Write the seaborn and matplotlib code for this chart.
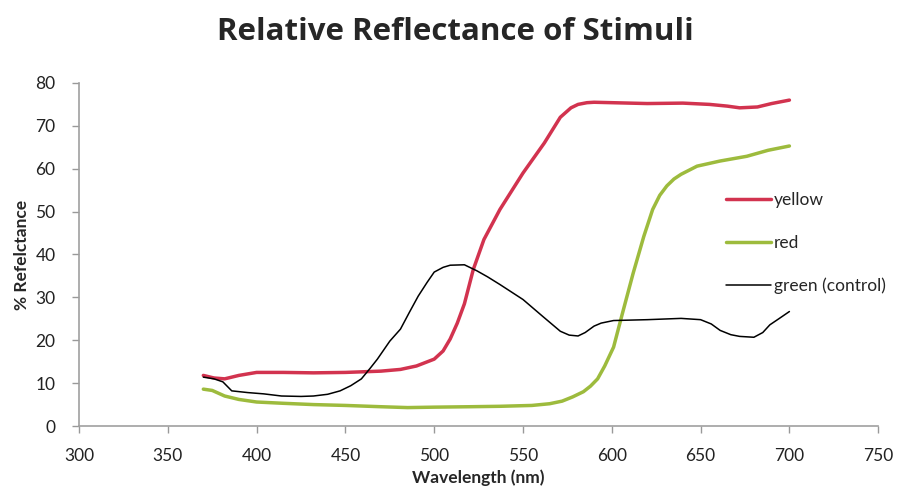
import matplotlib
matplotlib.use("Agg")
import matplotlib.pyplot as plt
import seaborn as sns
import pandas as pd

# ---- data ----
yellow_x = [370, 376, 382, 390, 400, 415, 432, 450, 470, 481, 490, 500, 505, 509, 513, 517,
            522, 528, 537, 550, 562, 571, 577, 581, 586, 590, 600, 620, 640, 655, 665, 672, 682, 690, 700]
yellow_y = [11.8, 11.2, 11.0, 11.8, 12.5, 12.5, 12.4, 12.5, 12.8, 13.2, 14.0, 15.6, 17.5, 20.3, 24.0, 28.5,
            36.5, 43.5, 50.5, 59.0, 66.0, 72.0, 74.2, 75.0, 75.4, 75.5, 75.4, 75.2, 75.3, 75.0, 74.6, 74.2, 74.4, 75.2, 76.0]

red_x = [370, 375, 382, 390, 400, 415, 432, 450, 470, 485, 500, 520, 537, 555, 565, 572, 578, 584,
         588, 592, 596, 601, 606, 612, 618, 623, 627, 631, 635, 639, 648, 661, 676, 688, 700]
red_y = [8.6, 8.3, 7.0, 6.2, 5.6, 5.3, 5.0, 4.8, 4.5, 4.3, 4.4, 4.5, 4.6, 4.8, 5.2, 5.8, 6.8, 8.0,
         9.3, 11.0, 14.0, 18.4, 26.3, 35.6, 44.2, 50.5, 53.8, 56.0, 57.6, 58.7, 60.6, 61.8, 62.9, 64.3, 65.3]

green_x = [370, 376, 381, 386, 395, 404, 414, 425, 432, 440, 447, 453, 459, 464, 468, 475, 481, 486,
           491, 496, 500, 505, 509, 517, 524, 530, 537, 550, 561, 571, 576, 581, 585, 590, 594, 601,
           620, 639, 650, 656, 661, 667, 672, 680, 685, 689, 694, 700]
green_y = [11.4, 11.0, 10.3, 8.2, 7.8, 7.5, 7.0, 6.9, 7.0, 7.4, 8.2, 9.4, 11.0, 13.5, 15.6, 19.8, 22.6, 26.5,
           30.3, 33.5, 35.9, 37.0, 37.5, 37.6, 36.2, 34.8, 33.0, 29.5, 25.6, 22.1, 21.2, 21.0, 21.8, 23.3, 24.0, 24.6,
           24.8, 25.1, 24.8, 23.8, 22.3, 21.3, 20.9, 20.7, 21.8, 23.6, 25.0, 26.7]

series_names = ["yellow", "red", "green (control)"]
series_colors = ["#d2334f", "#9dbb3d", "#000000"]
series_widths = [2.5, 2.5, 1.1]

x_ticks = [300, 350, 400, 450, 500, 550, 600, 650, 700, 750]
y_ticks = [0, 10, 20, 30, 40, 50, 60, 70, 80]

title = "Relative Reflectance of Stimuli"
x_label = "Wavelength (nm)"
y_label = "% Refelctance"

# ---- plot ----
sns.set_style("ticks")
plt.rcParams["font.family"] = ["Lato", "DejaVu Sans"]

fig = plt.figure(figsize=(9.01, 4.88), dpi=100)
ax = fig.add_axes([0.0877, 0.127, 0.887, 0.703])

data = [(yellow_x, yellow_y), (red_x, red_y), (green_x, green_y)]
for (xs, ys), name, col, lw in zip(data, series_names, series_colors, series_widths):
    sns.lineplot(x=xs, y=ys, ax=ax, color=col, linewidth=lw, label=name,
                 sort=False, estimator=None)

ax.set_xlim(300, 750)
ax.set_ylim(0, 80)
ax.set_xticks(x_ticks)
ax.set_yticks(y_ticks)
ax.tick_params(axis="both", labelsize=12.5, colors="#999999", labelcolor="#222222",
               length=5, width=1)
ax.tick_params(axis="x", pad=11)
ax.tick_params(axis="y", pad=12)
sns.despine(ax=ax)
for s in ["left", "bottom"]:
    ax.spines[s].set_color("#a0a0a0")
    ax.spines[s].set_linewidth(1.2)

ax.set_xlabel(x_label, fontsize=12.5, fontweight="bold", labelpad=3.5)
ax.set_ylabel(y_label, fontsize=12.5, fontweight="bold", labelpad=4)
fig.suptitle(title, fontsize=22.5, fontweight="bold", x=0.505, y=0.965,
             family=["Open Sans", "DejaVu Sans"])

leg = ax.legend(loc="center left", bbox_to_anchor=(0.79, 0.533), frameon=False,
                fontsize=12.5, handlelength=2.6, handletextpad=0.15, labelspacing=1.55)

fig.savefig("out.png", dpi=100)
